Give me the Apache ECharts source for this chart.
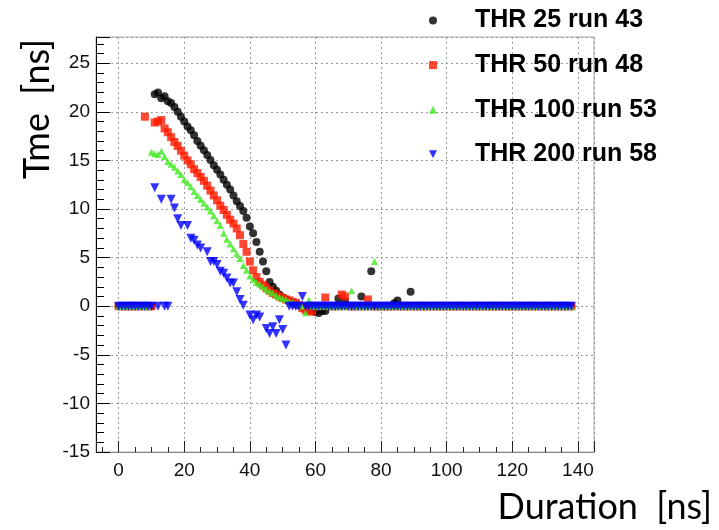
<!DOCTYPE html>
<html><head><meta charset="utf-8">
<script src="https://cdn.jsdelivr.net/npm/echarts@6/dist/echarts.min.js"></script>
<style>html,body{margin:0;padding:0;background:#fff}#c{width:719px;height:530px}</style>
</head><body><div id="c"></div>
<script>
// Legend names
const seriesNames = ['THR 25 run 43', 'THR 50 run 48', 'THR 100 run 53', 'THR 200 run 58'];
// Time values (ns), one entry per Duration bin 0..138 ns (index = duration), null = no point
const thr25 = [
 0,0,0,0,0,0,0,0,0,0,
 0,21.8,22.0,21.4,21.6,21.1,20.9,20.5,20.0,19.5,
 19.0,18.5,18.1,17.6,17.0,16.5,16.05,15.55,15.05,14.5,
 14.05,13.55,13.0,12.5,12.0,11.4,10.8,10.3,9.8,9.1,
 8.2,7.5,6.6,5.6,4.6,3.6,2.5,2.0,1.6,1.2,
 0.9,0.7,0.5,0.35,0.2,0.1,0,-0.1,-0.3,-0.5,
 -0.6,-0.7,-0.5,-0.5,0,0,0,0.8,0,0.5,
 0,0,0,0,1.0,0,0,3.6,0,0,
 0,0,0,0,0.3,0.6,0,0,0,1.5,
 0,0,0,0,0,0,0,0,0,0,
 0,0,0,0,0,0,0,0,0,0,
 0,0,0,0,0,0,0,0,0,0,
 0,0,0,0,0,0,0,0,0,0,
 0,0,0,0,0,0,0,0,0
];
const thr50 = [
 0,0,0,0,0,0,0,0,19.5,0,
 0,18.9,19.0,19.15,18.3,17.9,17.4,16.9,16.5,16.0,
 15.5,15.0,14.6,14.1,13.7,13.3,12.9,12.4,11.9,11.4,
 10.9,10.35,9.9,9.4,8.9,8.5,8.0,7.3,6.4,5.6,
 4.6,3.7,3.0,2.5,2.2,1.9,1.6,1.35,1.2,1.0,
 0.85,0.7,0.6,0.45,0.35,0.1,-0.2,-0.4,-0.5,-0.55,
 0,0,0,0.9,0,0,0,0,1.2,1.0,
 0,0,0,0,0,0,0.7,0,0,0,
 0,0,0,0,0,0,0,0,0,0,
 0,0,0,0,0,0,0,0,0,0,
 0,0,0,0,0,0,0,0,0,0,
 0,0,0,0,0,0,0,0,0,0,
 0,0,0,0,0,0,0,0,0,0,
 0,0,0,0,0,0,0,0,0
];
const thr100 = [
 0,0,0,0,0,0,0,0,0,0,
 15.85,15.7,15.6,15.95,15.4,14.9,14.6,14.3,13.9,13.55,
 13.0,12.7,12.3,11.8,11.4,11.0,10.6,10.2,9.8,9.3,
 8.8,8.3,7.5,6.9,6.4,5.9,5.4,4.9,4.2,3.7,
 3.1,2.75,2.45,2.25,2.0,1.75,1.55,1.35,1.1,0.95,
 0.8,0.7,0.5,0.4,0.3,0.15,0,-0.66,0.65,0,
 0,0,0,0,0,0,0,0,0,0,
 0,1.6,0,0,0,0,0,0,4.6,0,
 0,0,0,0,0,0,0,0,0,0,
 0,0,0,0,0,0,0,0,0,0,
 0,0,0,0,0,0,0,0,0,0,
 0,0,0,0,0,0,0,0,0,0,
 0,0,0,0,0,0,0,0,0,0,
 0,0,0,0,0,0,0,0,0
];
const thr200 = [
 0,0,0,0,0,0,0,0,0,0,
 0,12.2,0,11.0,0,0,11.0,10.1,9.0,8.3,
 null,8.3,7.0,6.8,6.3,6.0,null,5.6,4.6,4.6,
 4.3,3.6,3.4,2.9,2.4,2.4,1.5,0.7,0.1,null,
 -0.9,-1.4,-0.9,-1.1,null,-2.3,-2.8,-2.1,-2.8,-1.4,
 -2.4,-4.0,0,0,0,0,1.0,0,0,0,
 0,0,0,0,0,0,0,0,0,0,
 0,0,0,0,0,0,0,0,0,0,
 0,0,0,0,0,0,0,0,0,0,
 0,0,0,0,0,0,0,0,0,0,
 0,0,0,0,0,0,0,0,0,0,
 0,0,0,0,0,0,0,0,0,0,
 0,0,0,0,0,0,0,0,0,0,
 0,0,0,0,0,0,0,0,0
];
const xTickLabels = [0, 20, 40, 60, 80, 100, 120, 140];
const yTickLabels = [-15, -10, -5, 0, 5, 10, 15, 20, 25];

function toPoints(arr) {
  const out = [];
  arr.forEach((v, i) => { if (v !== null) out.push([i, v]); });
  return out;
}

const chart = echarts.init(document.getElementById('c'), null, {renderer: 'canvas'});
const labelFont = {fontFamily: 'Liberation Sans', fontSize: 19, color: '#111'};
const gridLine = {show: true, lineStyle: {color: '#999', width: 1, type: [2, 3]}};

chart.setOption({
  animation: false,
  backgroundColor: '#fff',
  grid: {left: 96, right: 125, top: 37, bottom: 78, show: true, borderColor: '#aaa', borderWidth: 1, containLabel: false},
  legend: {
    orient: 'vertical', left: 429, top: 8, padding: 0, itemGap: 19.6, itemWidth: 8, itemHeight: 8,
    textStyle: {fontFamily: 'Liberation Sans', fontWeight: 'bold', fontSize: 25, color: '#000', lineHeight: 25, padding: [0, 0, 0, 33]},
    data: [
      {name: seriesNames[0], icon: 'circle'},
      {name: seriesNames[1], icon: 'rect'},
      {name: seriesNames[2], icon: 'triangle'},
      {name: seriesNames[3], icon: 'path://M0,0 L10,0 L5,10 Z'}
    ]
  },
  xAxis: {
    type: 'value', min: -6.9, max: 144.9, splitNumber: 7,
    axisLine: {show: true, onZero: false, lineStyle: {color: '#888', width: 1}},
    axisTick: {show: true, inside: true, length: 11, lineStyle: {color: '#222'}},
    minorTick: {show: true, splitNumber: 4, length: 5, lineStyle: {color: '#222'}},
    axisLabel: Object.assign({margin: 9, showMinLabel: false, showMaxLabel: false,
      formatter: v => xTickLabels.includes(Math.round(v * 1000) / 1000) ? String(v) : ''}, labelFont),
    splitLine: gridLine
  },
  yAxis: {
    type: 'value', min: -15, max: 27.7, interval: 5,
    axisLine: {show: true, onZero: false, lineStyle: {color: '#000', width: 1}},
    axisTick: {show: true, inside: true, length: 14, lineStyle: {color: '#000'}},
    minorTick: {show: true, splitNumber: 5, length: 8, lineStyle: {color: '#000'}},
    axisLabel: Object.assign({margin: 6, showMaxLabel: false,
      formatter: v => yTickLabels.includes(v) ? String(v) : ''}, labelFont),
    splitLine: gridLine
  },
  graphic: [
    {type: 'text', x: 37, y: 109, rotation: Math.PI / 2,
     style: {text: 'Tme  [ns]', font: '36px Lato', fill: '#000', align: 'center', verticalAlign: 'middle'}},
    {type: 'text', x: 712, y: 507,
     style: {text: 'Duration  [ns]', font: '36px Lato', fill: '#000', align: 'right', verticalAlign: 'middle'}}
  ],
  series: [
    {name: seriesNames[0], type: 'scatter', symbol: 'circle', symbolSize: 8,
     itemStyle: {color: '#000'}, data: toPoints(thr25)},
    {name: seriesNames[1], type: 'scatter', symbol: 'rect', symbolSize: 8,
     itemStyle: {color: '#ff1a00'}, data: toPoints(thr50)},
    {name: seriesNames[2], type: 'scatter', symbol: 'triangle', symbolSize: 7,
     itemStyle: {color: '#3fe81f'}, data: toPoints(thr100)},
    {name: seriesNames[3], type: 'scatter', symbol: 'triangle', symbolRotate: 180, symbolSize: 9,
     itemStyle: {color: '#0000ff'}, data: toPoints(thr200)}
  ]
});
</script></body></html>
